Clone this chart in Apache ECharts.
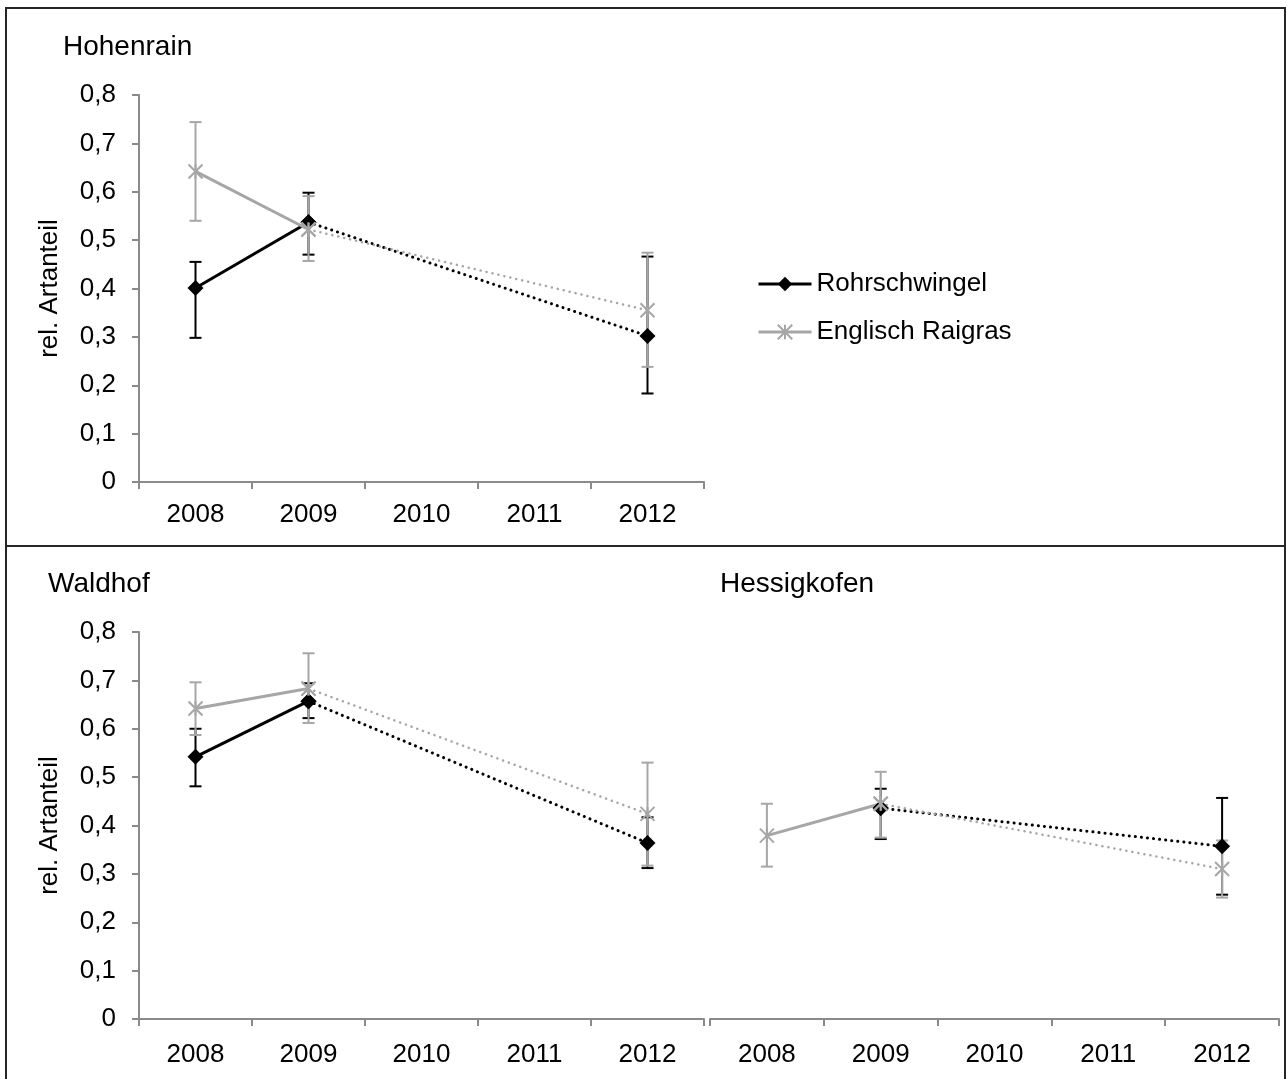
<!DOCTYPE html>
<html><head><meta charset="utf-8">
<script src="https://cdn.jsdelivr.net/npm/echarts@6/dist/echarts.min.js"></script>
<style>html,body{margin:0;padding:0;background:#fff}#c{width:1287px;height:1079px}</style>
</head><body><div id="c"></div>
<script>
// ---- data ----
const years = ['2008', '2009', '2010', '2011', '2012'];
const speciesNames = ['Rohrschwingel', 'Englisch Raigras'];
const panelTitles = ['Hohenrain', 'Waldhof', 'Hessigkofen'];
const yAxisName = 'rel. Artanteil';

// Hohenrain
const hohenrainRohr   = [0.401, 0.537, null, null, 0.302];
const hohenrainRohrHi = [0.455, 0.598, null, null, 0.466];
const hohenrainRohrLo = [0.298, 0.470, null, null, 0.183];
const hohenrainEngl   = [0.642, 0.522, null, null, 0.355];
const hohenrainEnglHi = [0.744, 0.591, null, null, 0.474];
const hohenrainEnglLo = [0.540, 0.457, null, null, 0.238];
// Waldhof
const waldhofRohr   = [0.542, 0.657, null, null, 0.364];
const waldhofRohrHi = [0.600, 0.694, null, null, 0.417];
const waldhofRohrLo = [0.481, 0.622, null, null, 0.312];
const waldhofEngl   = [0.642, 0.683, null, null, 0.424];
const waldhofEnglHi = [0.696, 0.756, null, null, 0.530];
const waldhofEnglLo = [0.587, 0.612, null, null, 0.317];
// Hessigkofen
const hessigRohr   = [null, 0.436, null, null, 0.357];
const hessigRohrHi = [null, 0.476, null, null, 0.457];
const hessigRohrLo = [null, 0.372, null, null, 0.257];
const hessigEngl   = [0.379, 0.445, null, null, 0.310];
const hessigEnglHi = [0.445, 0.511, null, null, 0.369];
const hessigEnglLo = [0.315, 0.375, null, null, 0.251];

// ---- styles ----
const FONT = 'Liberation Sans, Arial, sans-serif';
const AXIS_GRAY = '#8a8a8a';
const BLACK = '#000000';
const GRAY = '#a6a6a6';
const STAR = 'path://M0,0L14,14M14,0L0,14M7,0L7,14';

const grids = [
  {left: 139, top: 95, width: 565, height: 387},
  {left: 139, top: 632, width: 565, height: 387},
  {left: 710, top: 632, width: 569, height: 387}
];

const fmtY = v => (v === 0 ? '0' : v.toFixed(1).replace('.', ','));

const xAxes = grids.map((g, i) => ({
  type: 'category', gridIndex: i, data: years, boundaryGap: true,
  axisLine: {lineStyle: {color: AXIS_GRAY, width: 2}},
  axisTick: {show: true, length: 7, lineStyle: {color: AXIS_GRAY, width: 2}},
  axisLabel: {fontSize: 26, fontFamily: FONT, color: BLACK, margin: i === 0 ? 20 : 23},
  splitLine: {show: false}
}));

const yAxes = grids.map((g, i) => ({
  type: 'value', gridIndex: i, min: 0, max: 0.8, interval: 0.1,
  name: i < 2 ? yAxisName : '',
  nameLocation: 'middle', nameRotate: 90, nameGap: 76,
  nameTextStyle: {fontSize: 26, fontFamily: FONT, color: BLACK},
  axisLine: {show: i < 2, lineStyle: {color: AXIS_GRAY, width: 2}},
  axisTick: {show: i < 2, length: 7, lineStyle: {color: AXIS_GRAY, width: 2}},
  axisLabel: {show: i < 2, fontSize: 26, fontFamily: FONT, color: BLACK, margin: 23, formatter: fmtY},
  splitLine: {show: false}
}));

function errorSeries(gi, vals, hi, lo, color) {
  const data = [];
  vals.forEach((v, i) => { if (v != null) data.push([i, v, lo[i], hi[i]]); });
  return {
    type: 'custom', xAxisIndex: gi, yAxisIndex: gi, z: 1, clip: false, silent: true,
    encode: {x: 0, y: 1},
    data: data,
    renderItem: function (params, api) {
      const x = api.value(0);
      const pHi = api.coord([x, api.value(3)]);
      const pLo = api.coord([x, api.value(2)]);
      const w = 6;
      const st = {stroke: color, lineWidth: 2, fill: null};
      return {type: 'group', children: [
        {type: 'line', shape: {x1: pHi[0], y1: pHi[1], x2: pLo[0], y2: pLo[1]}, style: st},
        {type: 'line', shape: {x1: pHi[0] - w, y1: pHi[1], x2: pHi[0] + w, y2: pHi[1]}, style: st},
        {type: 'line', shape: {x1: pLo[0] - w, y1: pLo[1], x2: pLo[0] + w, y2: pLo[1]}, style: st}
      ]};
    }
  };
}

function lineSeries(gi, name, vals, isBlack) {
  const color = isBlack ? BLACK : GRAY;
  const symbolOpts = isBlack
    ? {symbol: 'diamond', symbolSize: 16, itemStyle: {color: BLACK}}
    : {symbol: STAR, symbolSize: 14, itemStyle: {color: 'rgba(0,0,0,0)', borderColor: GRAY, borderWidth: 2}};
  // continuous yearly measurements (2008-2009) solid, the gap to 2012 dotted
  const solid = vals.map((v, i) => (i <= 1 ? v : null));
  const dotted = vals.map((v, i) => (i >= 1 ? v : null));
  return [
    Object.assign({
      type: 'line', name: name, xAxisIndex: gi, yAxisIndex: gi, z: 2,
      data: solid, showSymbol: true, showAllSymbol: true, connectNulls: false,
      lineStyle: {color: color, width: 3}
    }, symbolOpts),
    Object.assign({
      type: 'line', name: name, xAxisIndex: gi, yAxisIndex: gi, z: 2,
      data: dotted, showSymbol: true, showAllSymbol: true, connectNulls: true,
      lineStyle: {color: color, width: isBlack ? 3 : 2.5, type: [0.1, 6], cap: 'round'}
    }, symbolOpts)
  ];
}

const panels = [
  [hohenrainRohr, hohenrainRohrHi, hohenrainRohrLo, hohenrainEngl, hohenrainEnglHi, hohenrainEnglLo],
  [waldhofRohr, waldhofRohrHi, waldhofRohrLo, waldhofEngl, waldhofEnglHi, waldhofEnglLo],
  [hessigRohr, hessigRohrHi, hessigRohrLo, hessigEngl, hessigEnglHi, hessigEnglLo]
];

const lines = [];
const errs = [];
panels.forEach((p, gi) => {
  errs.push(errorSeries(gi, p[0], p[1], p[2], BLACK));
  errs.push(errorSeries(gi, p[3], p[4], p[5], GRAY));
});
panels.forEach((p, gi) => {
  lines.push(...lineSeries(gi, speciesNames[0], p[0], true));
});
panels.forEach((p, gi) => {
  lines.push(...lineSeries(gi, speciesNames[1], p[3], false));
});

const titleStyle = {fontSize: 28, fontWeight: 'normal', fontFamily: FONT, color: BLACK};

const option = {
  animation: false,
  backgroundColor: '#ffffff',
  title: [
    {text: panelTitles[0], left: 63, top: 33, padding: 0, textStyle: titleStyle},
    {text: panelTitles[1], left: 48, top: 570, padding: 0, textStyle: titleStyle},
    {text: panelTitles[2], left: 720, top: 570, padding: 0, textStyle: titleStyle}
  ],
  legend: {
    data: speciesNames, orient: 'vertical', left: 757, top: 271,
    itemWidth: 53, itemHeight: 18, itemGap: 22, padding: 0,
    lineStyle: {width: 3},
    textStyle: {fontSize: 26, fontFamily: FONT, color: BLACK},
    selectedMode: false
  },
  grid: grids,
  xAxis: xAxes,
  yAxis: yAxes,
  series: lines.concat(errs),
  graphic: [
    {type: 'rect', shape: {x: 6, y: 8, width: 1279, height: 538}, style: {fill: null, stroke: '#262626', lineWidth: 2}, silent: true},
    {type: 'rect', shape: {x: 6, y: 546, width: 1279, height: 540}, style: {fill: null, stroke: '#262626', lineWidth: 2}, silent: true}
  ]
};

const chart = echarts.init(document.getElementById('c'), null, {renderer: 'canvas'});
chart.setOption(option);
</script>
</body></html>
